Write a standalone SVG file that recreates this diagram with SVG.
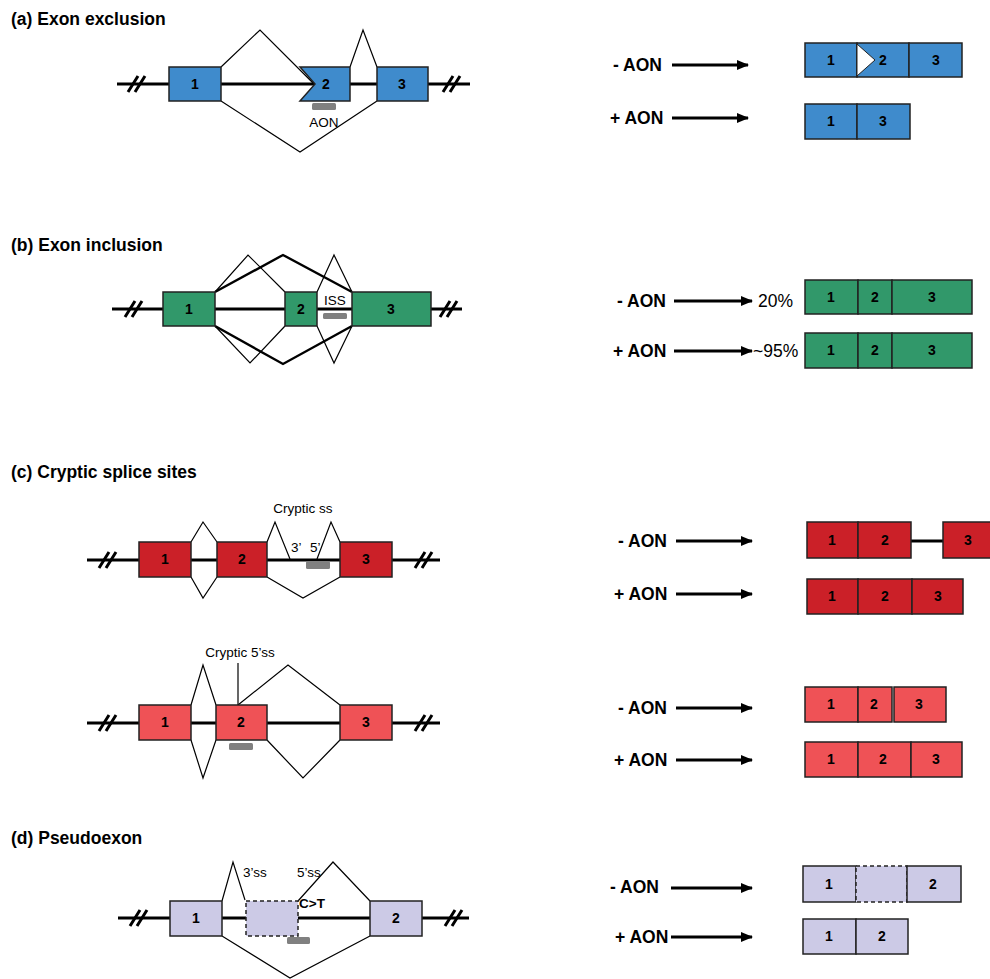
<svg xmlns="http://www.w3.org/2000/svg" width="990" height="979" viewBox="0 0 990 979">
<defs>
<marker id="ah" markerWidth="12" markerHeight="10" refX="11" refY="5" orient="auto" markerUnits="userSpaceOnUse">
<path d="M0,0 L12,5 L0,10 Z" fill="#000"/>
</marker>
<style>
.title{font-family:"Liberation Sans",Arial,sans-serif;font-weight:bold;font-size:17.5px;fill:#000}
.aon{font-family:"Liberation Sans",Arial,sans-serif;font-weight:bold;font-size:17.5px;fill:#000}
.pct{font-family:"Liberation Sans",Arial,sans-serif;font-size:17.5px;fill:#000}
.lbl{font-family:"Liberation Sans",Arial,sans-serif;font-weight:bold;font-size:14px;fill:#000;text-anchor:middle}
.sm{font-family:"Liberation Sans",Arial,sans-serif;font-size:13.5px;fill:#000}
.intr{stroke:#000;stroke-width:3;fill:none}
.brk{stroke:#000;stroke-width:3;fill:none}
.spl{stroke:#000;stroke-width:1.2;fill:none}
.splk{stroke:#000;stroke-width:2.4;fill:none}
.arr{stroke:#000;stroke-width:3;fill:none;marker-end:url(#ah)}
.ex{stroke:#222;stroke-width:1.5}
.blue{fill:#3F8BCC}
.green{fill:#31986A}
.red{fill:#CB2028}
.lred{fill:#EF5256}
.lav{fill:#CCCAE6}
.dash{stroke:#222;stroke-width:1.5;stroke-dasharray:4,3}
.bar{fill:#808080}
</style>
</defs>

<!-- titles -->
<text class="title" x="11" y="25">(a) Exon exclusion</text>
<text class="title" x="11" y="251">(b) Exon inclusion</text>
<text class="title" x="11" y="478">(c) Cryptic splice sites</text>
<text class="title" x="11" y="844">(d) Pseudoexon</text>

<g id="connectors">
<!-- (a) -->
<line class="intr" x1="117" y1="84" x2="470" y2="84"/>
<path class="brk" d="M128,92 L138,76 M135,92 L145,76 M443,92 L453,76 M450,92 L460,76"/>
<polyline class="spl" points="221,67 260,30 313,83"/>
<polyline class="spl" points="350,67 363,30 377,67"/>
<polyline class="spl" points="221,101 300,152 377,101"/>
<!-- (b) -->
<line class="intr" x1="112" y1="309" x2="462" y2="309"/>
<path class="brk" d="M125,317 L135,301 M132,317 L142,301 M440,317 L450,301 M447,317 L457,301"/>
<polyline class="spl" points="215,292 248,255 285,292"/>
<polyline class="splk" points="215,292 283,255 352,292"/>
<polyline class="spl" points="317,292 334,255 352,292"/>
<polyline class="spl" points="215,326 250,363 285,326"/>
<polyline class="splk" points="215,326 283,364 352,326"/>
<polyline class="spl" points="317,326 334,363 352,326"/>
<!-- (c) top -->
<line class="intr" x1="87" y1="560" x2="440" y2="560"/>
<path class="brk" d="M99,568 L109,552 M106,568 L116,552 M415,568 L425,552 M422,568 L432,552"/>
<polyline class="spl" points="191,542 203,522 217,542"/>
<polyline class="spl" points="191,577 203,598 217,577"/>
<polyline class="spl" points="267,542 275,522 290,559"/>
<polyline class="spl" points="317,559 331,522 340,542"/>
<polyline class="spl" points="267,577 303,598 340,577"/>
<!-- (c) bottom -->
<line class="intr" x1="87" y1="723" x2="440" y2="723"/>
<path class="brk" d="M99,731 L109,715 M106,731 L116,715 M415,731 L425,715 M422,731 L432,715"/>
<polyline class="spl" points="191,705 203,665 216,705"/>
<polyline class="spl" points="191,740 203,778 216,740"/>
<line class="spl" x1="238" y1="663" x2="238" y2="705"/>
<polyline class="spl" points="238,705 288,665 340,705"/>
<polyline class="spl" points="267,740 303,778 340,740"/>
<!-- (d) -->
<line class="intr" x1="118" y1="918" x2="469" y2="918"/>
<path class="brk" d="M130,926 L140,910 M137,926 L147,910 M445,926 L455,910 M452,926 L462,910"/>
<polyline class="spl" points="222,901 233,862 245,900"/>
<polyline class="spl" points="298,901 333,862 370,901"/>
<polyline class="spl" points="222,936 290,978 370,936"/>
<!-- arrows -->
<line class="arr" x1="672" y1="65" x2="748" y2="65"/>
<line class="arr" x1="672" y1="118" x2="748" y2="118"/>
<line class="arr" x1="674" y1="301" x2="752" y2="301"/>
<line class="arr" x1="674" y1="351" x2="752" y2="351"/>
<line class="arr" x1="676" y1="541" x2="752" y2="541"/>
<line class="arr" x1="676" y1="594" x2="752" y2="594"/>
<line class="arr" x1="676" y1="708" x2="752" y2="708"/>
<line class="arr" x1="676" y1="760" x2="752" y2="760"/>
<line class="arr" x1="671" y1="888" x2="752" y2="888"/>
<line class="arr" x1="671" y1="937" x2="752" y2="937"/>
<!-- (c) mRNA intron -->
<line stroke="#000" stroke-width="3" x1="911" y1="541" x2="943" y2="541"/>
</g>

<!-- (a) gene -->
<g id="a-exon1"><rect class="ex blue" x="169" y="67" width="52" height="34"/><text class="lbl" x="195" y="89">1</text></g>
<g id="a-exon2"><polygon class="ex blue" points="300,67 350,67 350,101 300,101 315,84"/><text class="lbl" x="326" y="89">2</text></g>
<g id="a-exon3"><rect class="ex blue" x="377" y="67" width="51" height="34"/><text class="lbl" x="402" y="89">3</text></g>
<g id="a-aon"><rect class="bar" x="312" y="103" width="24" height="7" rx="1.5"/><text class="sm" x="324" y="127" text-anchor="middle">AON</text></g>
<!-- (a) right -->
<g id="a-minus"><text class="aon" x="613" y="71">- AON</text></g>
<g id="a-plus"><text class="aon" x="610" y="124">+ AON</text></g>
<g id="a-mrna1">
<rect class="ex blue" x="805" y="43" width="52" height="34"/>
<rect class="ex blue" x="857" y="43" width="52" height="34"/>
<rect class="ex blue" x="909" y="43" width="53" height="34"/>
<polygon points="857,44 875,60 857,76" fill="#fff" stroke="#222" stroke-width="1"/>
<text class="lbl" x="831" y="65">1</text><text class="lbl" x="883" y="65">2</text><text class="lbl" x="936" y="65">3</text>
</g>
<g id="a-mrna2">
<rect class="ex blue" x="805" y="104" width="52" height="35"/>
<rect class="ex blue" x="857" y="104" width="53" height="35"/>
<text class="lbl" x="831" y="126">1</text><text class="lbl" x="883" y="126">3</text>
</g>

<!-- (b) gene -->
<g id="b-exon1"><rect class="ex green" x="163" y="292" width="52" height="34"/><text class="lbl" x="189" y="314">1</text></g>
<g id="b-exon2"><rect class="ex green" x="285" y="292" width="32" height="34"/><text class="lbl" x="301" y="314">2</text></g>
<g id="b-exon3"><rect class="ex green" x="352" y="292" width="79" height="34"/><text class="lbl" x="391" y="314">3</text></g>
<g id="b-iss"><text class="sm" x="335" y="305" text-anchor="middle">ISS</text><rect class="bar" x="323" y="313" width="24" height="6" rx="1.5"/></g>
<!-- (b) right -->
<g id="b-minus"><text class="aon" x="617" y="307">- AON</text><text class="pct" x="758" y="307">20%</text></g>
<g id="b-plus"><text class="aon" x="613" y="357">+ AON</text><text class="pct" x="753" y="357">~95%</text></g>
<g id="b-mrna1">
<rect class="ex green" x="805" y="280" width="53" height="34"/>
<rect class="ex green" x="858" y="280" width="34" height="34"/>
<rect class="ex green" x="892" y="280" width="80" height="34"/>
<text class="lbl" x="831" y="302">1</text><text class="lbl" x="875" y="302">2</text><text class="lbl" x="932" y="302">3</text>
</g>
<g id="b-mrna2">
<rect class="ex green" x="805" y="333" width="53" height="35"/>
<rect class="ex green" x="858" y="333" width="34" height="35"/>
<rect class="ex green" x="892" y="333" width="80" height="35"/>
<text class="lbl" x="831" y="355">1</text><text class="lbl" x="875" y="355">2</text><text class="lbl" x="932" y="355">3</text>
</g>

<!-- (c) top gene -->
<g id="c1-exon1"><rect class="ex red" x="139" y="542" width="52" height="35"/><text class="lbl" x="165" y="564">1</text></g>
<g id="c1-exon2"><rect class="ex red" x="217" y="542" width="50" height="35"/><text class="lbl" x="242" y="564">2</text></g>
<g id="c1-exon3"><rect class="ex red" x="340" y="542" width="52" height="35"/><text class="lbl" x="366" y="564">3</text></g>
<g id="c1-labels">
<text class="sm" x="303" y="513" text-anchor="middle">Cryptic ss</text>
<text class="sm" x="291" y="552">3’</text>
<text class="sm" x="310" y="552">5’</text>
<rect class="bar" x="306" y="561" width="24" height="8" rx="1.5"/>
</g>
<!-- (c) top right -->
<g id="c1-minus"><text class="aon" x="618" y="547">- AON</text></g>
<g id="c1-plus"><text class="aon" x="614" y="600">+ AON</text></g>
<g id="c1-mrna1">
<rect class="ex red" x="807" y="522" width="51" height="36"/>
<rect class="ex red" x="858" y="522" width="53" height="36"/>
<rect class="ex red" x="943" y="522" width="52" height="36"/>
<text class="lbl" x="832" y="545">1</text><text class="lbl" x="885" y="545">2</text><text class="lbl" x="968" y="545">3</text>
</g>
<g id="c1-mrna2">
<rect class="ex red" x="807" y="579" width="51" height="35"/>
<rect class="ex red" x="858" y="579" width="54" height="35"/>
<rect class="ex red" x="912" y="579" width="51" height="35"/>
<text class="lbl" x="832" y="601">1</text><text class="lbl" x="885" y="601">2</text><text class="lbl" x="938" y="601">3</text>
</g>

<!-- (c) bottom gene -->
<g id="c2-exon1"><rect class="ex lred" x="139" y="705" width="52" height="35"/><text class="lbl" x="165" y="727">1</text></g>
<g id="c2-exon2"><rect class="ex lred" x="216" y="705" width="51" height="35"/><text class="lbl" x="241" y="727">2</text></g>
<g id="c2-exon3"><rect class="ex lred" x="340" y="705" width="52" height="35"/><text class="lbl" x="366" y="727">3</text></g>
<g id="c2-labels">
<text class="sm" x="240" y="657" text-anchor="middle">Cryptic 5’ss</text>
<rect class="bar" x="229" y="743" width="24" height="7" rx="1.5"/>
</g>
<!-- (c) bottom right -->
<g id="c2-minus"><text class="aon" x="618" y="714">- AON</text></g>
<g id="c2-plus"><text class="aon" x="614" y="766">+ AON</text></g>
<g id="c2-mrna1">
<rect class="ex lred" x="805" y="687" width="53" height="35"/>
<rect class="ex lred" x="858" y="687" width="34" height="35"/>
<rect class="ex lred" x="894" y="687" width="52" height="35"/>
<text class="lbl" x="831" y="709">1</text><text class="lbl" x="874" y="709">2</text><text class="lbl" x="919" y="709">3</text>
</g>
<g id="c2-mrna2">
<rect class="ex lred" x="805" y="742" width="53" height="35"/>
<rect class="ex lred" x="858" y="742" width="53" height="35"/>
<rect class="ex lred" x="911" y="742" width="51" height="35"/>
<text class="lbl" x="831" y="764">1</text><text class="lbl" x="883" y="764">2</text><text class="lbl" x="936" y="764">3</text>
</g>

<!-- (d) gene -->
<g id="d-exon1"><rect class="ex lav" x="170" y="901" width="52" height="35"/><text class="lbl" x="196" y="923">1</text></g>
<g id="d-pseudo"><rect class="dash lav" x="246" y="901" width="52" height="35"/></g>
<g id="d-exon2"><rect class="ex lav" x="370" y="901" width="52" height="35"/><text class="lbl" x="396" y="923">2</text></g>
<g id="d-labels">
<text class="sm" x="243" y="877">3’ss</text>
<text class="sm" x="297" y="877">5’ss</text>
<text class="sm" x="299" y="908" font-weight="bold">C&gt;T</text>
<rect class="bar" x="287" y="937" width="23" height="7" rx="1.5"/>
</g>
<!-- (d) right -->
<g id="d-minus"><text class="aon" x="610" y="893">- AON</text></g>
<g id="d-plus"><text class="aon" x="615" y="943">+ AON</text></g>
<g id="d-mrna1">
<rect class="ex lav" x="803" y="866" width="53" height="36"/>
<rect class="dash lav" x="856" y="866" width="51" height="36"/>
<rect class="ex lav" x="907" y="866" width="54" height="36"/>
<text class="lbl" x="829" y="889">1</text><text class="lbl" x="933" y="889">2</text>
</g>
<g id="d-mrna2">
<rect class="ex lav" x="803" y="919" width="53" height="35"/>
<rect class="ex lav" x="856" y="919" width="52" height="35"/>
<text class="lbl" x="829" y="941">1</text><text class="lbl" x="882" y="941">2</text>
</g>
</svg>
